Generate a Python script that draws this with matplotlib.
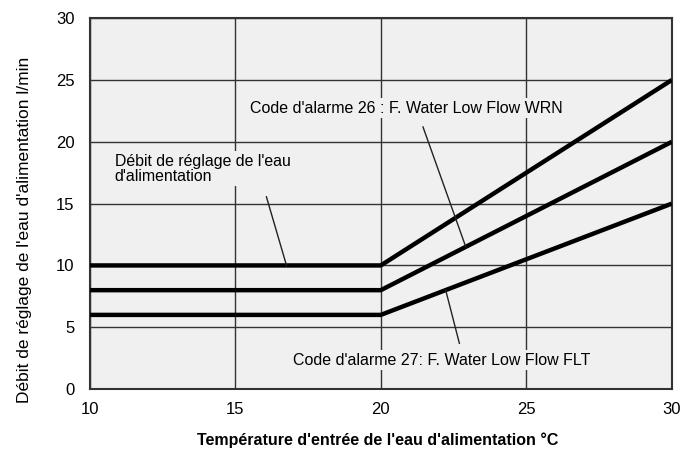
import matplotlib.pyplot as plt
import numpy as np

plt.rcParams['font.family'] = ['Liberation Sans', 'DejaVu Sans']

# flow curves (temperature °C -> l/min)
temp = [10, 20, 30]
flow_setting = [10, 10, 25]
alarm_26 = [8, 8, 20]
alarm_27 = [6, 6, 15]

xticks = [10, 15, 20, 25, 30]
yticks = [0, 5, 10, 15, 20, 25, 30]

bg = '#f0f0f0'

fig = plt.figure(figsize=(6.8, 4.54), dpi=100)
ax = fig.add_axes([0.132, 0.143, 0.856, 0.817])
ax.set_facecolor(bg)

for y in flow_setting, alarm_26, alarm_27:
    ax.plot(temp, y, color='black', lw=3.2, solid_capstyle='butt', zorder=3)

ax.set_xlim(10, 30)
ax.set_ylim(0, 30)
ax.set_xticks(xticks)
ax.set_yticks(yticks)
ax.grid(True, color='#333333', lw=1.0)
ax.set_axisbelow(True)
ax.tick_params(length=0, labelsize=12)
ax.tick_params(axis='x', pad=9)
ax.tick_params(axis='y', pad=11)
for s in ax.spines.values():
    s.set_color('#333333')
    s.set_linewidth(1.5)

box = dict(facecolor=bg, edgecolor='none', pad=2)
ax.text(10.86, 17.83, "Débit de réglage de l'eau\nd'alimentation", fontsize=11.4,
        va='center', ha='left', bbox=box, zorder=4, linespacing=1.0)
ax.plot([16.07, 16.76], [15.55, 10.0], color='#222222', lw=1, zorder=4)

ax.text(15.5, 22.72, "Code d'alarme 26 : F. Water Low Flow WRN", fontsize=11.5,
        va='center', ha='left', bbox=box, zorder=4)
ax.plot([21.45, 22.92], [21.2, 11.5], color='#222222', lw=1, zorder=4)

ax.text(17.0, 2.34, "Code d'alarme 27: F. Water Low Flow FLT", fontsize=11.5,
        va='center', ha='left', bbox=box, zorder=4)
ax.plot([22.23, 22.7], [8.0, 3.7], color='#222222', lw=1, zorder=4)

fig.text(0.036, 0.493, "Débit de réglage de l'eau d'alimentation l/min",
         fontsize=12.5, rotation=90, ha='center', va='center')
fig.text(0.555, 0.03, "Température d'entrée de l'eau d'alimentation °C",
         fontsize=11.5, fontweight='bold', ha='center', va='center')

fig.savefig('out.png', dpi=100)
